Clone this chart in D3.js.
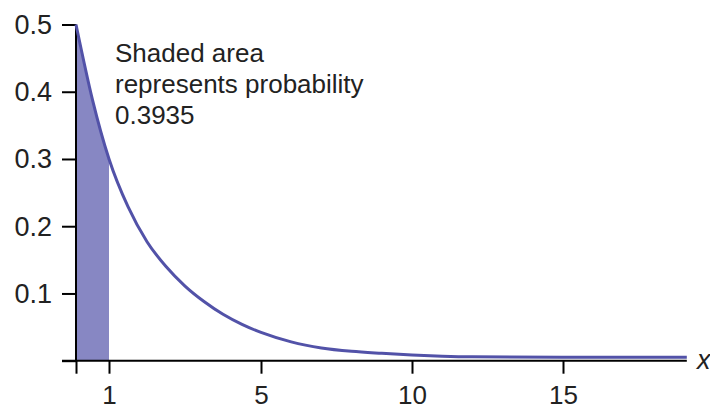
<!DOCTYPE html>
<html>
<head>
<meta charset="utf-8">
<script src="https://cdn.jsdelivr.net/npm/d3@7"></script>
<style>
  body { margin: 0; background: #fff; }
  svg { display: block; font-family: "Liberation Sans", Arial, sans-serif; }
</style>
</head>
<body>
<svg id="chart" width="710" height="409"></svg>
<script>
// valori (asse x come etichettato)
var curveX = [0, 0.5, 1, 1.5, 2, 2.5, 3, 3.5, 4, 4.5, 5, 6, 7, 8, 9, 10, 11, 12, 15, 19.1];
var curveY = [0.5, 0.388, 0.30, 0.229, 0.177, 0.140, 0.111, 0.088, 0.069, 0.054, 0.042, 0.028, 0.019, 0.014, 0.011, 0.0085, 0.0068, 0.0058, 0.005, 0.005];
var shadeTo = 1;
var xTicks = [0, 1, 5, 10, 15];
var xLabels = ["", "1", "5", "10", "15"];
var yTicks = [0, 0.1, 0.2, 0.3, 0.4, 0.5];
var yLabels = ["", "0.1", "0.2", "0.3", "0.4", "0.5"];
var note = ["Shaded area", "represents probability", "0.3935"];

var svg = d3.select("#chart");

// l'asse x originale non e' lineare: scala a tratti
var x = d3.scaleLinear().domain([0, 1, 5, 10, 15]).range([76, 109, 261, 412, 563]);
var y = d3.scaleLinear().domain([0, 0.5]).range([360.7, 24.5]);

var data = curveX.map(function(d, i) { return {x: d, y: curveY[i]}; });

// area ombreggiata
var shaded = data.filter(function(d) { return d.x <= shadeTo; });
svg.append("path")
  .datum(shaded)
  .attr("fill", "#8787c3")
  .attr("d", d3.area()
    .x(function(d) { return x(d.x); })
    .y0(y(0))
    .y1(function(d) { return y(d.y); })
    .curve(d3.curveMonotoneX));

// assi
var yAxis = svg.append("g")
  .attr("transform", "translate(" + x(0) + ",0)")
  .call(d3.axisLeft(y).tickValues(yTicks).tickSize(14).tickSizeOuter(0)
    .tickFormat(function(d, i) { return yLabels[i]; }));
yAxis.select(".domain").remove();
yAxis.selectAll("line").attr("stroke", "#000").attr("stroke-width", 2);
yAxis.selectAll("text").attr("x", -24).attr("dy", "0.33em")
  .style("font-size", "27px").attr("fill", "#222");

var xAxis = svg.append("g")
  .attr("transform", "translate(0," + y(0) + ")")
  .call(d3.axisBottom(x).tickValues(xTicks).tickSize(13).tickSizeOuter(0)
    .tickFormat(function(d, i) { return xLabels[i]; }));
xAxis.select(".domain").remove();
xAxis.selectAll("line").attr("stroke", "#000").attr("stroke-width", 2);
xAxis.selectAll("text").attr("y", 43).attr("dy", 0)
  .style("font-size", "26px").attr("fill", "#222");

svg.append("line")
  .attr("x1", x(0)).attr("x2", x(0))
  .attr("y1", y(0.5)).attr("y2", y(0))
  .attr("stroke", "#000").attr("stroke-width", 2);
svg.append("line")
  .attr("x1", 62).attr("x2", x(19.1))
  .attr("y1", y(0)).attr("y2", y(0))
  .attr("stroke", "#000").attr("stroke-width", 2);

// curva
svg.append("path")
  .datum(data)
  .attr("fill", "none")
  .attr("stroke", "#5252a8")
  .attr("stroke-width", 3)
  .attr("d", d3.line()
    .x(function(d) { return x(d.x); })
    .y(function(d) { return y(d.y); })
    .curve(d3.curveMonotoneX));

svg.append("text")
  .attr("x", 697).attr("y", y(0) + 8)
  .style("font-size", "27px").style("font-style", "italic")
  .attr("fill", "#222")
  .text("x");

svg.selectAll(".note")
  .data(note)
  .enter().append("text")
  .attr("class", "note")
  .attr("x", 115)
  .attr("y", function(d, i) { return 62 + i * 31; })
  .style("font-size", "26px")
  .attr("fill", "#222")
  .text(function(d) { return d; });
</script>
</body>
</html>
